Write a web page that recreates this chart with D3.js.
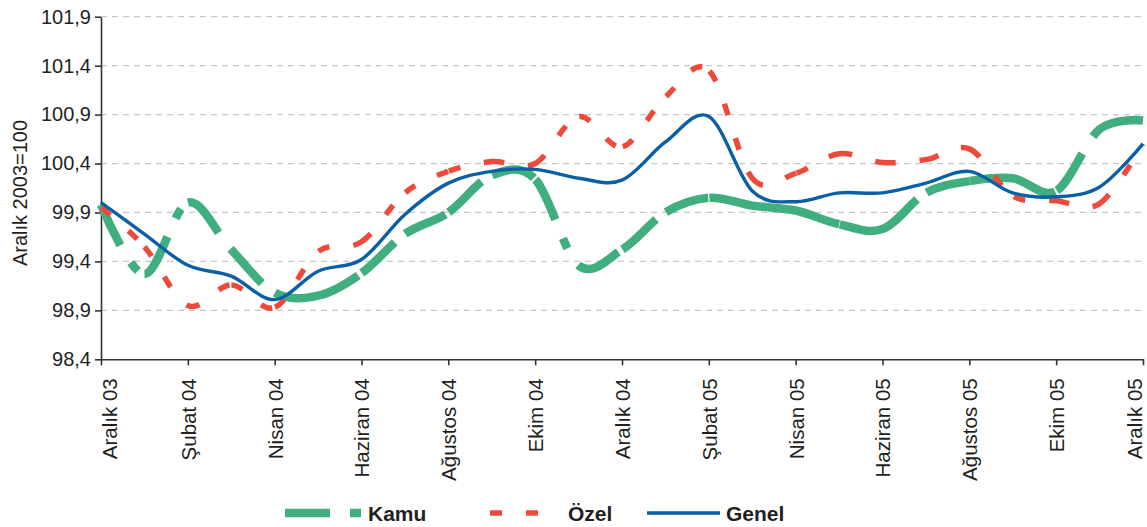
<!DOCTYPE html>
<html>
<head>
<meta charset="utf-8">
<script src="https://cdn.jsdelivr.net/npm/d3@7"></script>
<style>
  body { margin: 0; background: #fff; }
  svg { display: block; }
  text { font-family: "Liberation Sans", Arial, sans-serif; fill: #231f20; }
</style>
</head>
<body>
<svg id="chart" width="1147" height="527"></svg>
<script>
const months = ["Aralık 03", "Ocak 04", "Şubat 04", "Mart 04", "Nisan 04", "Mayıs 04",
    "Haziran 04", "Temmuz 04", "Ağustos 04", "Eylül 04", "Ekim 04", "Kasım 04",
    "Aralık 04", "Ocak 05", "Şubat 05", "Mart 05", "Nisan 05", "Mayıs 05",
    "Haziran 05", "Temmuz 05", "Ağustos 05", "Eylül 05", "Ekim 05", "Kasım 05", "Aralık 05"];
const tickMonths = months.filter((d, i) => i % 2 === 0);

const kamu = [99.98, 99.27, 100.0, 99.52, 99.08, 99.05, 99.28, 99.68, 99.9, 100.28, 100.24, 99.36,
    99.52, 99.9, 100.05, 99.97, 99.92, 99.78, 99.73, 100.1, 100.22, 100.25, 100.12, 100.75, 100.84];
const ozel = [99.95, 99.55, 98.95, 99.16, 98.93, 99.5, 99.6, 100.1, 100.32, 100.42, 100.4, 100.88,
    100.57, 101.08, 101.35, 100.25, 100.3, 100.5, 100.41, 100.44, 100.55, 100.07, 100.02, 99.99, 100.6];
const genel = [100.0, 99.68, 99.36, 99.25, 99.01, 99.3, 99.42, 99.88, 100.2, 100.32, 100.34, 100.25,
    100.23, 100.62, 100.88, 100.12, 100.01, 100.1, 100.1, 100.2, 100.32, 100.1, 100.06, 100.16, 100.6];

const yTicks = [98.4, 98.9, 99.4, 99.9, 100.4, 100.9, 101.4, 101.9];
const seriesNames = ["Kamu", "Özel", "Genel"];

const svg = d3.select("#chart");
const plotLeft = 101, plotRight = 1143, plotTop = 16.7, plotBottom = 359.3;

const x = d3.scalePoint().domain(months).range([plotLeft, plotRight]);
const y = d3.scaleLinear().domain([98.4, 101.9]).range([plotBottom, plotTop]);
const fmt = d => d3.format(".1f")(d).replace(".", ",");

// grid
svg.append("g")
    .selectAll("line")
    .data(yTicks.slice(1))
    .join("line")
    .attr("x1", plotLeft)
    .attr("x2", plotRight)
    .attr("y1", d => y(d))
    .attr("y2", d => y(d))
    .attr("stroke", "#c6c6cf")
    .attr("stroke-width", 1.3)
    .attr("stroke-dasharray", "6,5");

// axes
const yAxis = svg.append("g")
    .attr("transform", `translate(${plotLeft},0)`)
    .call(d3.axisLeft(y).tickValues(yTicks).tickFormat(fmt).tickSize(6).tickSizeOuter(0).tickPadding(4));
yAxis.selectAll("text").style("font-size", "20px");

const xAxis = svg.append("g")
    .attr("transform", `translate(0,${plotBottom})`)
    .call(d3.axisBottom(x).tickValues(tickMonths).tickSize(6).tickSizeOuter(0));
xAxis.selectAll("text")
    .style("font-size", "20.5px")
    .attr("text-anchor", "end")
    .attr("transform", "rotate(-90)")
    .attr("x", -19)
    .attr("y", (d, i) => i === 0 ? 8 : (i === tickMonths.length - 1 ? -9 : 0))
    .attr("dy", "0.36em");

svg.selectAll(".domain, .tick line").attr("stroke", "#333").attr("stroke-width", 1.6);
svg.selectAll(".tick text").attr("fill", "#231f20");

svg.append("text")
    .attr("transform", "translate(27,193) rotate(-90)")
    .attr("text-anchor", "middle")
    .style("font-size", "20px")
    .text("Aralık 2003=100");

// dash pattern restarts at every month point
function lengthAtX(node, xv) {
    let lo = 0, hi = node.getTotalLength();
    for (let k = 0; k < 40; k++) {
        const mid = (lo + hi) / 2;
        if (node.getPointAtLength(mid).x < xv) lo = mid; else hi = mid;
    }
    return (lo + hi) / 2;
}

function restartDash(node, pattern) {
    const total = node.getTotalLength();
    const bounds = months.map((m, i) => i === 0 ? 0 : (i === months.length - 1 ? total : lengthAtX(node, x(m))));
    const runs = [];
    for (let k = 0; k < bounds.length - 1; k++) {
        const s = bounds[k + 1] - bounds[k];
        let pos = 0, i = 0;
        while (pos < s - 1e-6) {
            const len = Math.min(pattern[i % pattern.length], s - pos);
            const on = i % 2 === 0;
            if (runs.length && runs[runs.length - 1].on === on) runs[runs.length - 1].len += len;
            else runs.push({ on, len });
            pos += len;
            i++;
        }
    }
    if (runs[runs.length - 1].on) runs.push({ on: false, len: 1000 });
    return runs.map(r => r.len.toFixed(2)).join(",");
}

const line = d3.line()
    .x((d, i) => x(months[i]))
    .y(d => y(d))
    .curve(d3.curveCardinal);

const styles = [
    { values: kamu, color: "#40ae7e", width: 8.5, pattern: [45, 20, 11, 20] },
    { values: ozel, color: "#ee4a3b", width: 5.5, pattern: [12, 24] },
    { values: genel, color: "#0b5fa5", width: 3.4, pattern: null }
];

styles.forEach(s => {
    const path = svg.append("path")
        .datum(s.values)
        .attr("d", line)
        .attr("fill", "none")
        .attr("stroke", s.color)
        .attr("stroke-width", s.width);
    if (s.pattern) path.attr("stroke-dasharray", restartDash(path.node(), s.pattern));
});

// legend
const legendPos = [285, 490, 647];
const legendLen = [77, 72, 73];
styles.forEach((s, i) => {
    const g = svg.append("g");
    g.append("line")
        .attr("x1", legendPos[i])
        .attr("x2", legendPos[i] + legendLen[i])
        .attr("y1", 513)
        .attr("y2", 513)
        .attr("stroke", s.color)
        .attr("stroke-width", s.width)
        .attr("stroke-dasharray", s.pattern ? s.pattern.join(",") : null);
    g.append("text")
        .attr("x", legendPos[i] + legendLen[i] + 6)
        .attr("y", 521)
        .style("font-size", "21px")
        .style("font-weight", "bold")
        .text(seriesNames[i]);
});
</script>
</body>
</html>
